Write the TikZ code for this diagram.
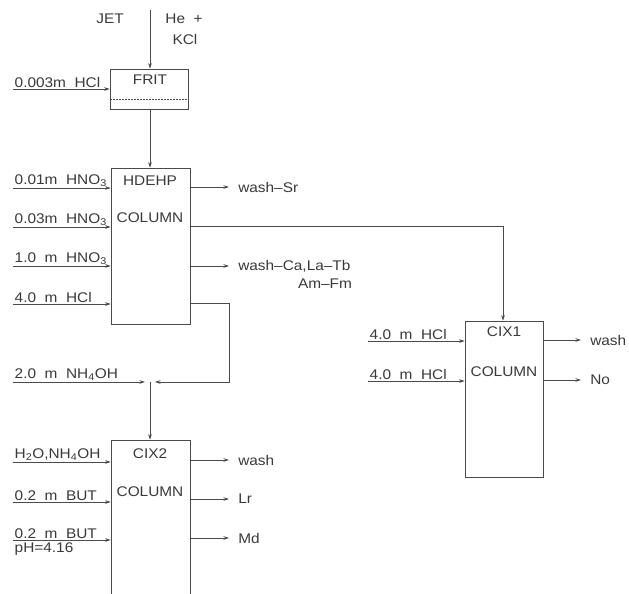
\documentclass[tikz,border=0pt]{standalone}
\usepackage{fontspec}
\setmainfont{Liberation Sans}[FakeStretch=1.1]
\usetikzlibrary{arrows.meta}
\definecolor{ink}{HTML}{4A4A4A}
\definecolor{txt}{HTML}{3A3A3A}
\begin{document}
\begin{tikzpicture}[x=1pt,y=-1pt,
  line/.style={draw=ink,line width=0.6pt},
  arr/.style={line,-{Stealth[length=5.5pt,width=3.5pt]}},
  box/.style={draw=ink,line width=0.6pt,rectangle,inner sep=0pt},
  lbl/.style={text=txt,font=\fontsize{14}{16}\selectfont,inner sep=1.5pt},
  inlbl/.style={lbl,anchor=south west},
  outlbl/.style={lbl,anchor=west,inner sep=9pt}]
\useasboundingbox (0,0) rectangle (629,594);
\clip (0,0) rectangle (629,594);
\fill[white] (0,0) rectangle (629,594);

% boxes
\node[box,minimum width=78pt,minimum height=40pt] (frit) at (149,89) {};
\draw[ink,line width=0.5pt,densely dotted] (frit.west |- 0,99) -- (frit.east |- 0,99);
\node[box,minimum width=79pt,minimum height=156pt] (hdehp) at (150.5,246) {};
\node[box,minimum width=79pt,minimum height=200pt] (cix2) at (150.5,540) {};
\node[box,minimum width=78pt,minimum height=156pt] (cix1) at (504,399) {};

% box texts
\node[lbl] (tfrit) at (150,80) {FRIT};
\node[lbl] (thd) at (150,181) {HDEHP};
\node[lbl] (thdc) at (150,218) {COLUMN};
\node[lbl] (tc2) at (150,454) {CIX2};
\node[lbl] (tc2c) at (150,492) {COLUMN};
\node[lbl] (tc1) at (504,332) {CIX1};
\node[lbl] (tc1c) at (504,372) {COLUMN};

% top
\node[lbl] (jet) at (110,19) {JET};
\node[lbl] (he) at (184,19) {He\ \ +};
\node[lbl] (kcl) at (185,39) {KCl};
\coordinate (top) at (150,10);
\draw[arr] (top) -- (frit.north -| top);

% FRIT input
\coordinate (f1) at (13,89);
\node[inlbl] (lf1) at (f1) {0.003m\ \ HCl};
\draw[arr] (f1) -- (f1 -| frit.west);
\draw[arr] (frit.south -| top) -- (hdehp.north -| top);

% HDEHP inputs
\coordinate (h1) at (13,188);
\coordinate (h2) at (13,227);
\coordinate (h3) at (13,266);
\coordinate (h4) at (13,304);
\node[inlbl] (lh1) at (h1) {0.01m\ \ HNO\textsubscript{3}};
\node[inlbl] (lh2) at (h2) {0.03m\ \ HNO\textsubscript{3}};
\node[inlbl] (lh3) at (h3) {1.0\ \ m\ \ HNO\textsubscript{3}};
\node[inlbl] (lh4) at (h4) {4.0\ \ m\ \ HCl};
\foreach \c in {h1,h2,h3,h4} \draw[arr] (\c) -- (\c -| hdehp.west);

% HDEHP outputs
\coordinate (o1) at (229,187);
\coordinate (o3) at (229,266);
\draw[arr] (o1 -| hdehp.east) -- (o1) node[outlbl] (lo1) {wash--Sr};
\draw[arr] (o3 -| hdehp.east) -- (o3) node[outlbl] (lo3) {wash--Ca,La--Tb};
\node[lbl] (amfm) at (325,284) {Am--Fm};
\coordinate (bend1) at (503,226);
\draw[arr] (bend1 -| hdehp.east) -- (bend1) -- (cix1.north -| bend1);

% HDEHP to CIX2 via junction
\coordinate (j) at (150,382);
\coordinate (b2) at (229,303);
\draw[arr] (b2 -| hdehp.east) -- (b2) -- (b2 |- j) -- ([xshift=5pt]j);
\coordinate (n1) at (13,382);
\node[inlbl] (ln1) at (n1) {2.0\ \ m\ \ NH\textsubscript{4}OH};
\draw[arr] (n1) -- ([xshift=-5pt]j);
\draw[arr] (j) -- (cix2.north -| j);

% CIX2 inputs
\coordinate (c1) at (13,462);
\coordinate (c2) at (13,502);
\coordinate (c3) at (13,540);
\node[inlbl] (lc1) at (c1) {H\textsubscript{2}O,NH\textsubscript{4}OH};
\node[inlbl] (lc2) at (c2) {0.2\ \ m\ \ BUT};
\node[inlbl] (lc3) at (c3) {0.2\ \ m\ \ BUT};
\node[lbl,anchor=north west] (ph) at (13,541) {pH=4.16};
\foreach \c in {c1,c2,c3} \draw[arr] (\c) -- (\c -| cix2.west);

% CIX2 outputs
\coordinate (d1) at (229,460);
\coordinate (d2) at (229,499);
\coordinate (d3) at (229,538);
\draw[arr] (d1 -| cix2.east) -- (d1) node[outlbl] (ld1) {wash};
\draw[arr] (d2 -| cix2.east) -- (d2) node[outlbl] (ld2) {Lr};
\draw[arr] (d3 -| cix2.east) -- (d3) node[outlbl] (ld3) {Md};

% CIX1 inputs
\coordinate (k1) at (368,341);
\coordinate (k2) at (368,381);
\node[inlbl] (lk1) at (k1) {4.0\ \ m\ \ HCl};
\node[inlbl] (lk2) at (k2) {4.0\ \ m\ \ HCl};
\foreach \c in {k1,k2} \draw[arr] (\c) -- (\c -| cix1.west);

% CIX1 outputs
\coordinate (e1) at (581,340);
\coordinate (e2) at (581,380);
\draw[arr] (e1 -| cix1.east) -- (e1) node[outlbl] (le1) {wash};
\draw[arr] (e2 -| cix1.east) -- (e2) node[outlbl] (le2) {No};
\end{tikzpicture}
\end{document}
